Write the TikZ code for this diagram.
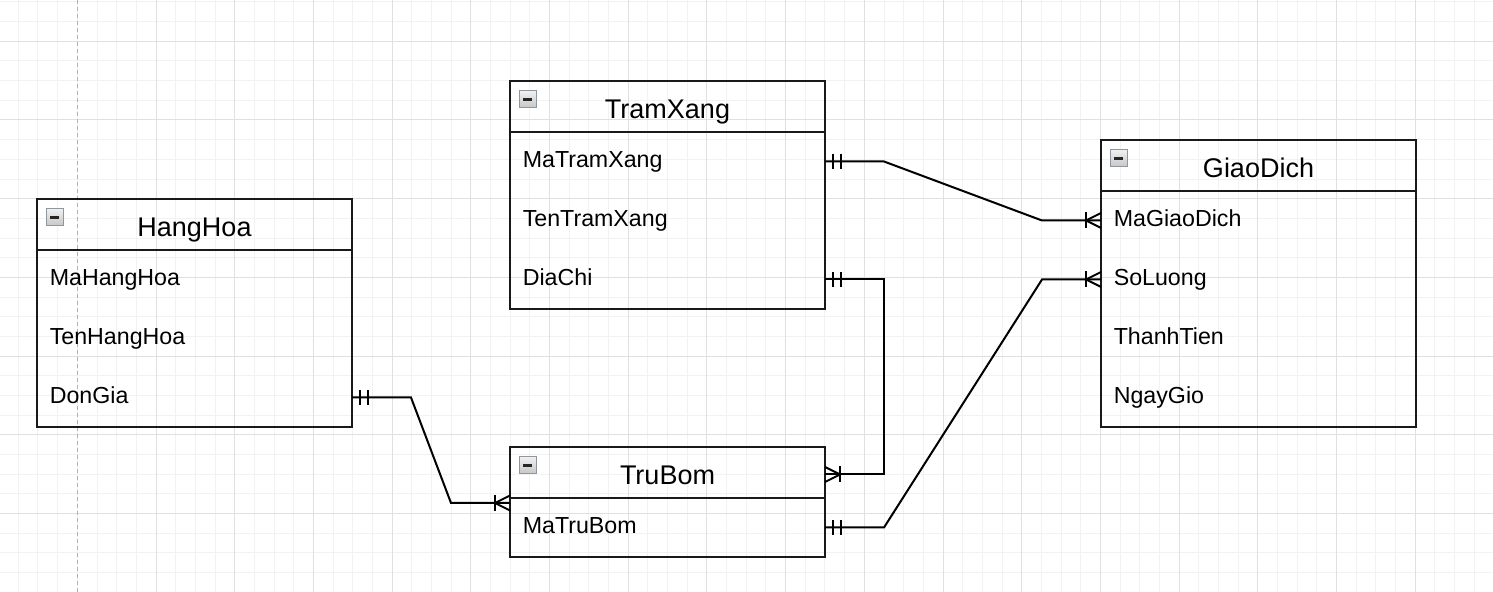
\documentclass[tikz,border=0pt]{standalone}
\usepackage{fontspec}
\setmainfont{Liberation Sans}
\usetikzlibrary{positioning,calc}

\definecolor{gridminor}{HTML}{F2F2F2}
\definecolor{gridmajor}{HTML}{E0E0E0}
\definecolor{iconedge}{HTML}{8E96A0}

\tikzset{
	ent/.style={draw=black!90, line width=1pt, outer sep=0pt, anchor=north west,
		minimum width=157.5pt, minimum height=25.5pt, inner sep=0pt,
		font=\fontsize{13.5}{16}\selectfont, text height=12.3pt, text depth=0pt},
	attr/.style={outer sep=0pt, inner xsep=6.4pt, inner ysep=0pt, text width=144.7pt,
		align=left, minimum height=29.5pt, font=\fontsize{11.6}{14}\selectfont,
		text height=6.2pt, text depth=0pt},
	body/.style={draw=black!90, line width=1pt},
	conn/.style={draw=black, line width=1pt},
}

% mandatory one / many markers, #2 = side of the edge (1 right, -1 left)
\newcommand{\erone}[2]{%
	\draw[conn] ($(#1)+(#2*7.5,-7.5)$) -- ++(0,15) ($(#1)+(#2*16,-7.5)$) -- ++(0,15);}
\newcommand{\ermany}[2]{%
	\draw[conn] ($(#1)+(#2*15,-8)$) -- ++(0,16);
	\draw[conn] ($(#1)+(0,-7.5)$) -- ($(#1)+(#2*15,0)$) -- ($(#1)+(0,7.5)$);}

\begin{document}
\begin{tikzpicture}[x=0.5pt, y=-0.5pt]
	\useasboundingbox (0,0) rectangle (1493,592);
	\fill[white] (0,0) rectangle (1493,592);
	% grid
	\foreach \i in {0,...,74}
		\draw[gridminor, line width=0.5pt] ({18.3+19.675*\i},0) -- ++(0,592);
	\foreach \j in {0,...,29}
		\draw[gridminor, line width=0.5pt] (0,{1.95+19.675*\j}) -- ++(1493,0);
	\foreach \i in {1,...,17}
		\draw[gridmajor, line width=0.5pt] ({77.3+78.7*\i},0) -- ++(0,592);
	\foreach \j in {0,...,6}
		\draw[gridmajor, line width=0.5pt] (0,{41.3+78.7*\j}) -- ++(1493,0);
	\draw[gray!60, line width=0.5pt, dash pattern=on 2pt off 1.5pt] (77.3,0) -- (77.3,592);
	%
	\node[ent] (hh) at (37,199) {HangHoa};
	\node[attr, below=0pt of hh] (hh1) {MaHangHoa};
	\node[attr, below=0pt of hh1] (hh2) {TenHangHoa};
	\node[attr, below=0pt of hh2] (hh3) {DonGia};
	\draw[body] (hh1.north west) rectangle (hh3.south east);
	%
	\node[ent] (tx) at (510,81) {TramXang};
	\node[attr, below=0pt of tx] (tx1) {MaTramXang};
	\node[attr, below=0pt of tx1] (tx2) {TenTramXang};
	\node[attr, below=0pt of tx2] (tx3) {DiaChi};
	\draw[body] (tx1.north west) rectangle (tx3.south east);
	%
	\node[ent] (gd) at (1101,140) {GiaoDich};
	\node[attr, below=0pt of gd] (gd1) {MaGiaoDich};
	\node[attr, below=0pt of gd1] (gd2) {SoLuong};
	\node[attr, below=0pt of gd2] (gd3) {ThanhTien};
	\node[attr, below=0pt of gd3] (gd4) {NgayGio};
	\draw[body] (gd1.north west) rectangle (gd4.south east);
	%
	\node[ent] (tb) at (510,447) {TruBom};
	\node[attr, below=0pt of tb] (tb1) {MaTruBom};
	\draw[body] (tb1.north west) rectangle (tb1.south east);
	%
	\foreach \e in {hh,tx,gd,tb} {
		\shade[top color=gray!12, bottom color=gray!45, draw=iconedge, line width=0.5pt]
			($(\e.north west)+(9,10)$) rectangle ++(17,17);
		\draw[black!85, line width=1.4pt] ($(\e.north west)+(13,18.5)$) -- ++(9,0);
	}
	%
	\coordinate (tbin) at ($(tb.east)+(0,2)$);
	\coordinate (tbhh) at ($(tb1.north west)+(0,5)$);
	\draw[conn] (tx1.east) -- ++(59,0) -- ($(gd1.west)+(-59,0)$) -- (gd1.west);
	\draw[conn] (tx3.east) -- ++(59,0) |- (tbin);
	\draw[conn] (hh3.east) -- ++(59,0) -- ($(tbhh)+(-59,0)$) -- (tbhh);
	\draw[conn] (tb1.east) -- ++(59,0) -- ($(gd2.west)+(-59,0)$) -- (gd2.west);
	\erone{tx1.east}{1}
	\erone{tx3.east}{1}
	\erone{hh3.east}{1}
	\erone{tb1.east}{1}
	\ermany{gd1.west}{-1}
	\ermany{gd2.west}{-1}
	\ermany{tbin}{1}
	\ermany{tbhh}{-1}
\end{tikzpicture}
\end{document}
